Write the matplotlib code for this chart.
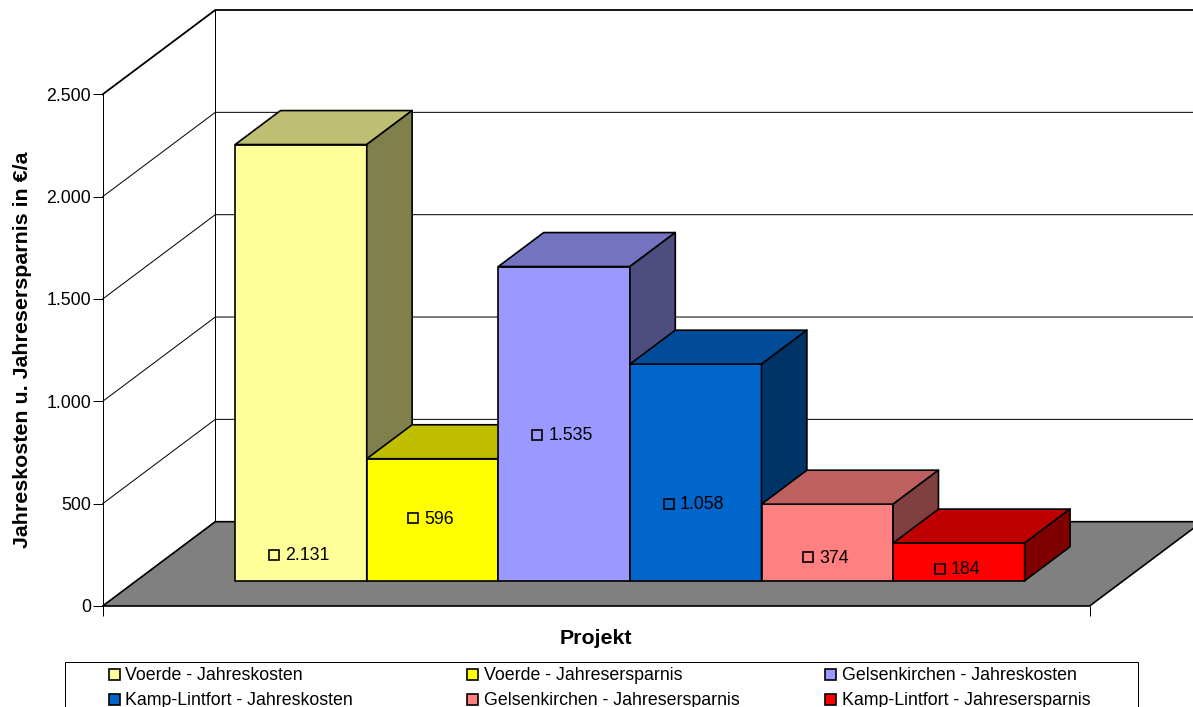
#!/usr/bin/env python3
"""3D-style column chart of yearly costs and savings per project."""
import matplotlib
matplotlib.use("Agg")
import matplotlib.pyplot as plt
from matplotlib.patches import Polygon, Rectangle
from matplotlib.transforms import Affine2D

plt.rcParams.update({
    "font.family": ["Liberation Sans", "DejaVu Sans"],
    "font.size": 12.8,
})

# data
SERIES = ["Voerde - Jahreskosten", "Voerde - Jahresersparnis",
          "Gelsenkirchen - Jahreskosten", "Kamp-Lintfort - Jahreskosten",
          "Gelsenkirchen - Jahresersparnis", "Kamp-Lintfort - Jahresersparnis"]
VALUES = [2131, 596, 1535, 1058, 374, 184]
VALUE_LABELS = ["2.131", "596", "1.535", "1.058", "374", "184"]
# height of each data label above the column foot, in axis units
LABEL_HEIGHTS = [126, 305, 713, 375, 114, 59]
Y_TICKS = [0, 500, 1000, 1500, 2000, 2500]
Y_TICK_LABELS = ["0", "500", "1.000", "1.500", "2.000", "2.500"]

# front, top and side colour of each column
FRONT = ["#FFFF99", "#FFFF00", "#9999FF", "#0066CC", "#FF8080", "#FF0000"]
TOP = ["#BFBF73", "#BFBF00", "#7373BF", "#004C99", "#BF6060", "#BF0000"]
SIDE = ["#80804D", "#808000", "#4D4D80", "#003366", "#804040", "#800000"]

W, H = 1193, 707
X_MAX = 7.5
Y_MAX = 2500
# oblique projection: how far full floor depth shifts a point, in data units
DEPTH_X = 112.6 / 131.6
DEPTH_Y = 84.3 / 0.2047
BAR_D0, BAR_D1 = 0.30, 0.703
EDGE = 1.2
THIN = 0.72


def proj(x, v, d=0.0):
    return x + d * DEPTH_X, v + d * DEPTH_Y


fig = plt.figure(figsize=(W / 100, H / 100), dpi=100)
left, right, top, bottom = 102.7, 1089.6, 94.3, 606.0
ax = fig.add_axes([left / W, 1 - bottom / H, (right - left) / W, (bottom - top) / H])
ax.set_xlim(0, X_MAX)
ax.set_ylim(0, Y_MAX)
ax.patch.set_visible(False)
for name in ("top", "right", "bottom"):
    ax.spines[name].set_visible(False)
ax.spines["left"].set_linewidth(THIN)
ax.set_yticks(Y_TICKS)
ax.set_yticklabels(Y_TICK_LABELS)
ax.tick_params(axis="y", length=7, width=THIN, pad=1.5)
ax.set_xticks([0, X_MAX])
ax.set_xticklabels(["", ""])
ax.tick_params(axis="x", length=7, width=THIN)
ax.set_xlabel("Projekt", fontweight="bold", fontsize=15.4, labelpad=6)
ax.set_ylabel("Jahreskosten u. Jahresersparnis in €/a", fontweight="bold",
              fontsize=15.4, labelpad=10)

# walls: gridlines run along the left wall and across the back wall
for v in Y_TICKS:
    lw = 1.3 if v == Y_MAX else THIN
    pts = [proj(0, v), proj(0, v, 1), proj(X_MAX, v, 1)]
    ax.plot(*zip(*pts), color="black", lw=lw, clip_on=False, zorder=1)
ax.plot(*zip(proj(0, 0, 1), proj(0, Y_MAX, 1)), color="black", lw=THIN,
        clip_on=False, zorder=1)

# floor
ax.add_patch(Polygon([proj(0, 0), proj(X_MAX, 0), proj(X_MAX, 0, 1), proj(0, 0, 1)],
                     facecolor="#808080", edgecolor="black", lw=EDGE,
                     clip_on=False, zorder=2))

# columns left to right, each one covers the side of its neighbour
renderer = fig.canvas.get_renderer()
for i, val in enumerate(VALUES):
    x0, x1 = 0.75 + i, 1.75 + i
    faces = [
        (FRONT[i], [proj(x0, 0, BAR_D0), proj(x1, 0, BAR_D0),
                    proj(x1, val, BAR_D0), proj(x0, val, BAR_D0)]),
        (TOP[i], [proj(x0, val, BAR_D0), proj(x1, val, BAR_D0),
                  proj(x1, val, BAR_D1), proj(x0, val, BAR_D1)]),
        (SIDE[i], [proj(x1, 0, BAR_D0), proj(x1, 0, BAR_D1),
                   proj(x1, val, BAR_D1), proj(x1, val, BAR_D0)]),
    ]
    z = 3 + i * 0.1
    for color, pts in faces:
        ax.add_patch(Polygon(pts, facecolor=color, edgecolor="black", lw=EDGE,
                             joinstyle="round", clip_on=False, zorder=z))

    # data label: small open square, then the value, centred on the column
    xc, yc = proj(x0 + 0.5, LABEL_HEIGHTS[i], BAR_D0)
    txt = ax.annotate(VALUE_LABELS[i], (xc, yc), xytext=(0, -0.7),
                      textcoords="offset points", va="center", ha="left",
                      zorder=6, annotation_clip=False)
    width = txt.get_window_extent(renderer).width
    start = -(17 + width) / 2 - 2
    txt.set_position(((start + 17) * 0.72, -0.7))
    ax.plot([xc], [yc], marker="s", ms=7.8, mfc="none", mec="black", mew=1.2,
            ls="none", clip_on=False, zorder=6,
            transform=ax.transData + Affine2D().translate(start + 6, 0))

# legend box runs off the lower edge of the figure
px = Affine2D().scale(1 / W, -1 / H).translate(0, 1) + fig.transFigure
fig.add_artist(Rectangle((64.5, 661.5), 1073.5, 60, transform=px, facecolor="white",
                         edgecolor="black", lw=THIN))
LEGEND_X = [108.7, 467.0, 825.0]
LEGEND_Y = [674.0, 699.0]
for n, label in enumerate(SERIES):
    lx, ly = LEGEND_X[n % 3], LEGEND_Y[n // 3]
    fig.add_artist(Rectangle((lx, ly - 5.5), 11.3, 11.3, transform=px, facecolor=FRONT[n],
                             edgecolor="black", lw=EDGE))
    fig.text(lx + 16.5, ly + 1.2, label, transform=px, va="center", ha="left")

fig.savefig("out.png", dpi=100)
